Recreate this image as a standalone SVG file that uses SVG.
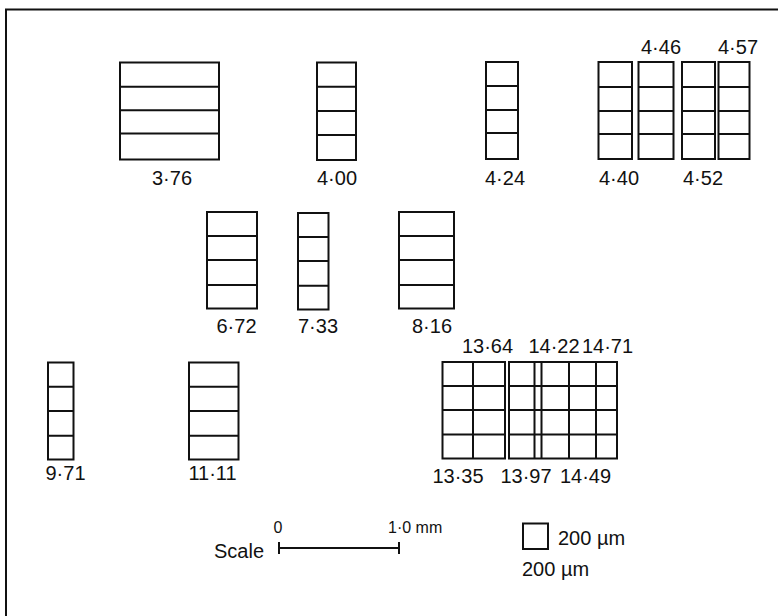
<svg xmlns="http://www.w3.org/2000/svg" width="778" height="616" viewBox="0 0 778 616">
<style>
.b{fill:none;stroke:#111;stroke-width:2}
.t{font-family:"Liberation Sans",Arial,sans-serif;font-size:20px;fill:#111;text-anchor:middle}
.s{font-size:16px}
.l{text-anchor:start}
</style>
<rect width="778" height="616" fill="#fff"/>
<path class="b" d="M6,616V9.5H778"/>
<g id="n376">
<rect class="b" x="120" y="62.5" width="99" height="97"/>
<path class="b" d="M120,86.7H219M120,110.3H219M120,133.5H219"/>
<text class="t" x="172" y="185">3·76</text>
</g>
<g id="n400">
<rect class="b" x="317" y="62.5" width="39" height="97.5"/>
<path class="b" d="M317,86.7H356M317,111H356M317,135H356"/>
<text class="t" x="337" y="185">4·00</text>
</g>
<g id="n424">
<rect class="b" x="486" y="62" width="32" height="97"/>
<path class="b" d="M486,86H518M486,110H518M486,133H518"/>
<text class="t" x="505" y="185">4·24</text>
</g>
<g id="n440">
<rect class="b" x="598.5" y="62" width="33.5" height="97"/>
<path class="b" d="M598.5,87H632M598.5,111H632M598.5,134H632"/>
<text class="t" x="619" y="185">4·40</text>
</g>
<g id="n446">
<rect class="b" x="638.5" y="62" width="35" height="97"/>
<path class="b" d="M638.5,87H673.5M638.5,111H673.5M638.5,134H673.5"/>
<text class="t" x="661" y="54">4·46</text>
</g>
<g id="n452">
<rect class="b" x="682" y="62" width="33" height="97"/>
<path class="b" d="M682,87H715M682,111H715M682,134H715"/>
<text class="t" x="703" y="185">4·52</text>
</g>
<g id="n457">
<rect class="b" x="718.5" y="62" width="31" height="97"/>
<path class="b" d="M718.5,87H749.5M718.5,111H749.5M718.5,134H749.5"/>
<text class="t" x="738" y="54">4·57</text>
</g>
<g id="n672">
<rect class="b" x="207" y="212" width="50" height="96.5"/>
<path class="b" d="M207,236H257M207,260H257M207,285H257"/>
<text class="t" x="236.5" y="333">6·72</text>
</g>
<g id="n733">
<rect class="b" x="298" y="213" width="30.5" height="96.5"/>
<path class="b" d="M298,237H328.5M298,261H328.5M298,285.7H328.5"/>
<text class="t" x="318" y="333">7·33</text>
</g>
<g id="n816">
<rect class="b" x="399" y="212" width="55" height="96.5"/>
<path class="b" d="M399,236H454M399,260H454M399,285H454"/>
<text class="t" x="432" y="333">8·16</text>
</g>
<g id="n971">
<rect class="b" x="48" y="362.5" width="25.5" height="97"/>
<path class="b" d="M48,386.7H73.5M48,411H73.5M48,435.7H73.5"/>
<text class="t" x="65.5" y="480">9·71</text>
</g>
<g id="n1111">
<rect class="b" x="189" y="362.5" width="49.5" height="97"/>
<path class="b" d="M189,386.7H238.5M189,411H238.5M189,435.7H238.5"/>
<text class="t" x="212.5" y="480">11·11</text>
</g>
<g id="n1335">
<rect class="b" x="442.5" y="362" width="62.5" height="96.5"/>
<path class="b" d="M473,362V458.5M442.5,386H505M442.5,410H505M442.5,434.5H505"/>
<text class="t" x="458" y="483">13·35</text>
<text class="t" x="487.5" y="353">13·64</text>
</g>
<g id="n1397">
<rect class="b" x="509" y="362" width="108" height="96.5"/>
<path class="b" d="M534.5,362V458.5M541.5,362V458.5M569,362V458.5M596,362V458.5M509,386H617M509,410H617M509,434.5H617"/>
<text class="t" x="526" y="483">13·97</text>
<text class="t" x="585.5" y="483">14·49</text>
<text class="t" x="554" y="353">14·22</text>
<text class="t" x="607.5" y="353">14·71</text>
</g>
<g id="scale">
<text class="t l" x="214" y="558">Scale</text>
<path class="b" d="M279,548H399M279,542V554M399,542V554" stroke-width="1.5"/>
<text class="t s" x="278" y="533">0</text>
<text class="t s l" x="388" y="533">1·0 mm</text>
</g>
<g id="unit">
<rect class="b" x="523" y="523.5" width="25" height="25.5"/>
<text class="t l" x="558" y="545">200 µm</text>
<text class="t l" x="522" y="576">200 µm</text>
</g>
</svg>
